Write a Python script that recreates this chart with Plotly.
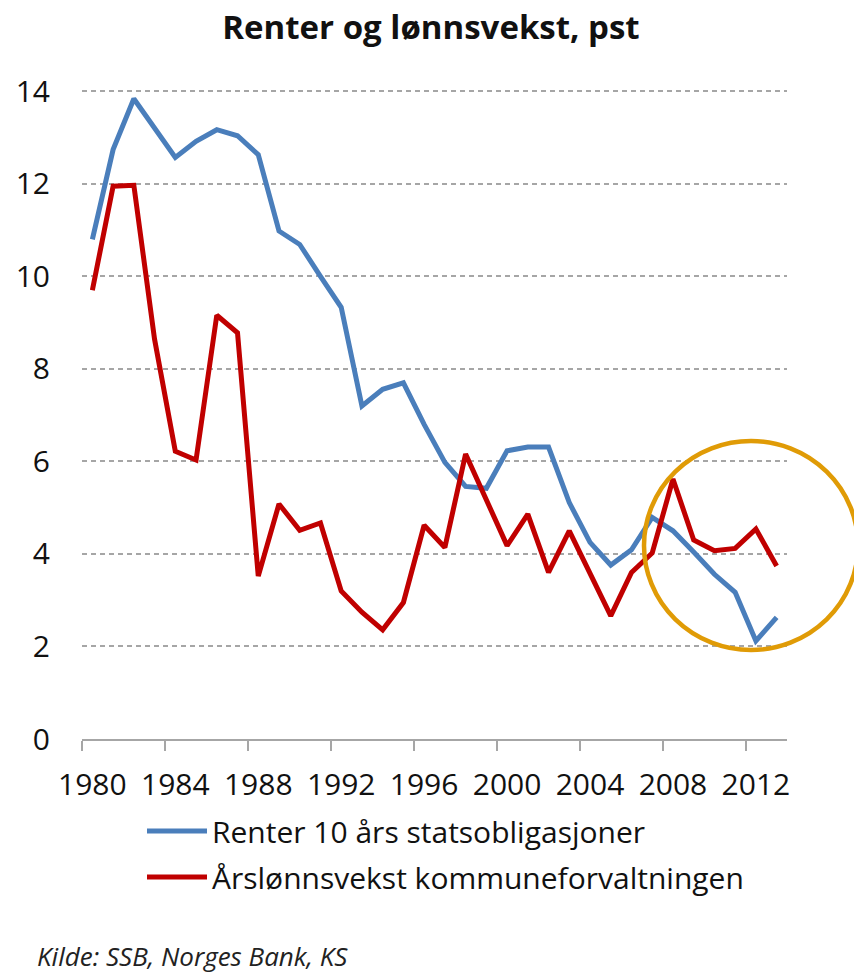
import plotly.graph_objects as go

years = list(range(1980, 2014))

renter_10ar = [10.80, 12.74, 13.84, 13.20, 12.57, 12.92, 13.17, 13.04, 12.63, 10.98,
               10.69, 10.00, 9.33, 7.20, 7.56, 7.70, 6.80, 5.98, 5.46, 5.42,
               6.23, 6.31, 6.31, 5.11, 4.25, 3.76, 4.09, 4.79, 4.50, 4.04,
               3.56, 3.17, 2.12, 2.63]

arslonnsvekst = [9.70, 11.95, 11.97, 8.64, 6.22, 6.03, 9.16, 8.78, 3.52, 5.08,
                 4.51, 4.67, 3.20, 2.74, 2.36, 2.95, 4.62, 4.14, 6.16, 5.15,
                 4.18, 4.86, 3.60, 4.50, 3.60, 2.66, 3.60, 4.02, 5.62, 4.30,
                 4.07, 4.12, 4.54, 3.74]

year_ticks = [1980, 1984, 1988, 1992, 1996, 2000, 2004, 2008, 2012]
value_ticks = [0, 2, 4, 6, 8, 10, 12, 14]

series_names = ["Renter 10 års statsobligasjoner", "Årslønnsvekst kommuneforvaltningen"]
title_text = "Renter og lønnsvekst, pst"
source_text = "Kilde: SSB, Norges Bank, KS"

FONT = "Open Sans"
BLUE = "#4A7EBB"
RED = "#C00000"
GOLD = "#E09B06"
GRID = "#A6A6A6"

W, H = 854, 976
ML, MR, MT, MB = 82, 67, 89, 237
PW = W - ML - MR
PH = H - MT - MB

def px_x(p):
    return (p - ML) / PW

def px_y(p):
    return (H - MB - p) / PH

fig = go.Figure()
fig.add_trace(go.Scatter(x=years, y=renter_10ar, mode="lines", name=series_names[0],
                         legendgroup="a", line=dict(color=BLUE, width=5)))
fig.add_trace(go.Scatter(x=years, y=arslonnsvekst, mode="lines", name=series_names[1],
                         legendgroup="b", line=dict(color=RED, width=5)))

# highlight circle (paper-referenced so it can extend beyond the plot area)
fig.add_shape(type="circle", xref="paper", yref="paper",
              x0=px_x(644), x1=px_x(858), y0=px_y(650), y1=px_y(441),
              line=dict(color=GOLD, width=4.5), layer="above")

fig.add_annotation(text=source_text, xref="paper", yref="paper",
                   x=px_x(36), y=px_y(975.5), xanchor="left", yanchor="bottom",
                   showarrow=False, borderpad=0,
                   font=dict(family=FONT, size=26, color="#222222", style="italic"))

fig.update_layout(
    width=W, height=H,
    margin=dict(l=ML, r=MR, t=MT, b=MB, pad=0),
    paper_bgcolor="white", plot_bgcolor="white",
    title=dict(text="<b>" + title_text + "</b>", x=431 / W, xanchor="center",
               y=1 - 27 / H, yanchor="middle",
               font=dict(family=FONT, size=33, color="#111111")),
    font=dict(family=FONT, color="#111111"),
    showlegend=True,
    legend=dict(x=px_x(142), y=px_y(805), xanchor="left", yanchor="top",
                font=dict(family=FONT, size=30, color="#111111"),
                bgcolor="rgba(0,0,0,0)", tracegroupgap=4, itemwidth=60,
                traceorder="grouped"),
    xaxis=dict(range=[1979.5, 2013.5], tickmode="array", tickvals=year_ticks,
               ticktext=[str(y) for y in year_ticks], ticks="",
               showgrid=False, zeroline=False, showline=True, linecolor=GRID, linewidth=1.5,
               tickfont=dict(family=FONT, size=30, color="#111111"),
               ticklabelstandoff=18,
               minor=dict(tick0=1979.5, dtick=4, ticks="outside", ticklen=10,
                          tickcolor=GRID, tickwidth=1.5, showgrid=False)),
    yaxis=dict(range=[0, 14.05], tickmode="array", tickvals=value_ticks,
               showgrid=True, gridcolor=GRID, gridwidth=1.5, griddash="5px,4px",
               zeroline=False, showline=False, ticks="",
               tickfont=dict(family=FONT, size=30, color="#111111"),
               ticklabelstandoff=31),
)

fig.write_html("out.html", config={"displayModeBar": False},
               post_script="document.body.style.margin='0';")
